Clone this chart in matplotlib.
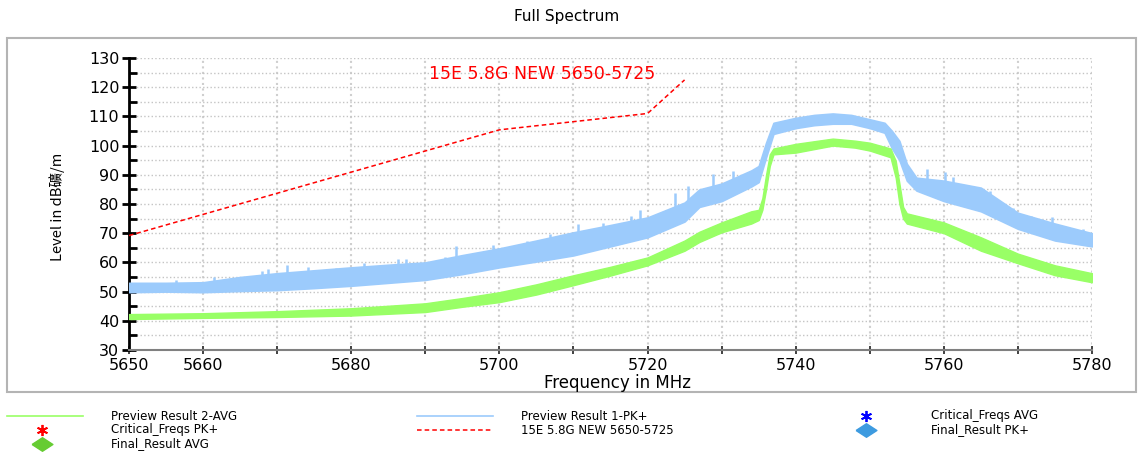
import numpy as np
import matplotlib
matplotlib.use("Agg")
import matplotlib.pyplot as plt
from matplotlib.lines import Line2D
from matplotlib.patches import Rectangle

plt.rcParams['font.family'] = ['DejaVu Sans', 'Noto Sans CJK TC']

W, H = 1139, 455

# Preview Result 1-PK+ (band: lower / upper edge)
pk_freq = [5650, 5655, 5660, 5665, 5670, 5675, 5680, 5685, 5690, 5695, 5700, 5705, 5710,
           5715, 5720, 5725, 5727, 5730, 5734, 5735, 5736, 5737, 5740, 5742.5, 5745,
           5747.5, 5750, 5752, 5753, 5754, 5755, 5756.3, 5760, 5765, 5770, 5775, 5780]
pk_low = [49.8, 50.0, 49.8, 50.2, 50.5, 51.2, 52.0, 53.0, 54.0, 56.0, 58.3, 60.3, 62.4,
          65.5, 68.6, 74.0, 79.0, 81.0, 86.0, 87.5, 96.0, 104.0, 106.0, 107.0, 107.5,
          107.5, 106.0, 104.4, 99.0, 95.0, 88.0, 84.6, 81.0, 77.5, 71.5, 67.5, 65.5]
pk_up = [53.0, 53.0, 53.2, 55.0, 56.3, 57.3, 58.3, 59.2, 60.0, 62.5, 64.8, 67.5, 70.3,
         72.8, 75.4, 80.5, 85.0, 87.0, 91.5, 93.0, 101.0, 107.8, 109.5, 110.5, 111.0,
         110.5, 109.0, 107.8, 105.0, 101.6, 93.8, 89.0, 88.0, 85.6, 77.0, 73.3, 70.0]

# isolated peaks sticking out of the PK+ band
spike_freq = [5656.4, 5661.5, 5667.9, 5668.8, 5671.3, 5674.1, 5677.9, 5681.7, 5686.3, 5687.4,
              5692.7, 5694.2, 5699.2, 5703.7, 5706.8, 5710.6, 5714.0, 5717.8, 5719.0, 5723.7,
              5725.5, 5728.9, 5731.5, 5757.7, 5760.2, 5761.3, 5764.4, 5766.2, 5768.7, 5769.4,
              5771.8, 5774.6, 5778.8]
spike_lvl = [53.9, 54.9, 57.0, 57.6, 59.0, 58.3, 58.0, 59.8, 61.0, 61.3,
             61.8, 65.5, 65.8, 67.5, 69.6, 73.3, 73.5, 76.0, 77.8, 83.6,
             86.3, 90.4, 91.4, 92.0, 90.9, 89.2, 85.7, 84.6, 78.5, 78.5,
             76.0, 75.5, 71.6]

# Preview Result 2-AVG
av_freq = [5650, 5660, 5670, 5680, 5690, 5695, 5700, 5705, 5710, 5715, 5720, 5725, 5727,
           5730, 5734, 5735, 5735.5, 5736, 5736.5, 5737, 5740, 5745, 5748, 5750, 5752.8,
           5753.5, 5754, 5754.5, 5755, 5760, 5765, 5770, 5775, 5780]
av_low = [40.6, 41.0, 41.3, 41.8, 43.0, 44.8, 46.4, 49.0, 52.2, 55.5, 59.0, 64.0, 67.0,
          70.3, 73.3, 74.5, 78.0, 85.0, 93.0, 97.0, 97.6, 100.0, 99.3, 98.3, 96.0,
          89.0, 80.0, 75.0, 73.3, 70.0, 64.0, 59.7, 55.6, 53.2]
av_up = [42.3, 42.6, 43.3, 44.3, 46.0, 47.8, 49.8, 52.5, 55.6, 58.5, 61.7, 67.5, 70.5,
         73.7, 77.5, 78.0, 82.0, 90.0, 97.0, 99.0, 100.6, 102.4, 101.7, 101.0, 99.0,
         94.8, 87.0, 79.0, 76.8, 73.7, 68.6, 63.0, 59.0, 56.3]

# limit line
lim_freq = [5650, 5700, 5720, 5725]
lim_lvl = [69.2, 105.4, 111.0, 122.5]
lim_name = "15E 5.8G NEW 5650-5725"

xtick_vals = list(range(5650, 5781, 10))
xtick_labels = ["5650", "5660", "", "5680", "", "5700", "", "5720", "", "5740", "", "5760", "", "5780"]

c_pk = "#9ccbfc"
c_av = "#99ff66"
c_lim = "#ff0000"

fig = plt.figure(figsize=(W / 100, H / 100), dpi=100)
ax = fig.add_axes([129 / W, 1 - 350 / H, (1092 - 129) / W, (350 - 58) / H])

ax.fill_between(pk_freq, pk_low, pk_up, color=c_pk, lw=1.2, zorder=3)
base = np.interp(spike_freq, pk_freq, pk_up) - 1.5
ax.vlines(spike_freq, base, spike_lvl, color=c_pk, lw=1.8, zorder=3)
ax.fill_between(av_freq, av_low, av_up, color=c_av, lw=1.0, zorder=4)
ax.plot(lim_freq, lim_lvl, ls=(0, (3, 2)), color=c_lim, lw=1.1, zorder=5)
ax.text(5690.5, 124.5, lim_name, color=c_lim, fontsize=12.5, va='center', ha='left', zorder=6)

ax.set_xlim(5650, 5780)
ax.set_ylim(30, 130)
ax.set_xticks(xtick_vals)
ax.set_xticklabels(xtick_labels)
ax.set_yticks(range(30, 131, 10))
ax.set_yticks(range(35, 131, 10), minor=True)
ax.tick_params(axis='y', which='major', direction='inout', length=10, width=2,
               labelsize=11.5, pad=2, color='black')
ax.tick_params(axis='y', which='minor', direction='in', length=6, width=2, color='black')
ax.tick_params(axis='x', which='major', direction='inout', length=6, width=1.3,
               labelsize=11.5, pad=3, color='#333333')

ax.grid(axis='x', which='major', color='#cfcfcf', ls=':', lw=1.5)
ax.grid(axis='y', which='both', color='#c4c4c4', ls=':', lw=1.0)

for s in ['top', 'right']:
    ax.spines[s].set_visible(False)
ax.spines['left'].set_linewidth(2)
ax.spines['left'].set_color('black')
ax.spines['bottom'].set_linewidth(1.5)
ax.spines['bottom'].set_color('#808080')

# outer frame round the plot area
fig.add_artist(Rectangle((7 / W, 1 - 392 / H), 1129 / W, 354 / H, transform=fig.transFigure,
                         fill=False, edgecolor='#b4b4b4', lw=1.5))

fig.text(567 / W, 1 - 16 / H, "Full Spectrum", ha='center', va='center', fontsize=11)
fig.text(617 / W, 1 - 383 / H, "Frequency in MHz", ha='center', va='center', fontsize=12)
fig.text(57 / W, 1 - 207 / H, "Level in dB礦/m", ha='center', va='center', rotation=90,
         fontsize=10.5, family=['Noto Sans CJK TC'])

# legend, three columns under the frame
def leg_line(x0, x1, y, **kw):
    fig.add_artist(Line2D([x0 / W, x1 / W], [1 - y / H, 1 - y / H], transform=fig.transFigure, **kw))

def leg_mark(x, y, **kw):
    fig.add_artist(Line2D([x / W], [1 - y / H], transform=fig.transFigure, ls='none', **kw))

diamond = [(-1, 0), (0, 0.65), (1, 0), (0, -0.65), (-1, 0)]
leg_line(7, 83, 416, color=c_av, lw=1.2)
leg_mark(42, 430, marker=(6, 2, 0), color='red', ms=8, mew=1.3)
leg_mark(42, 444, marker=diamond, color='#66cc33', ms=15)
leg_line(417, 493, 416, color=c_pk, lw=1.2)
leg_line(417, 493, 430, color=c_lim, lw=1.1, ls=(0, (3, 2)))
leg_mark(866, 416, marker=(6, 2, 0), color='blue', ms=8, mew=1.3)
leg_mark(866, 430, marker=diamond, color='#3d9be0', ms=15)

leg_text = [(111, 416, "Preview Result 2-AVG"), (111, 430, "Critical_Freqs PK+"),
            (111, 444, "Final_Result AVG"), (521, 416, "Preview Result 1-PK+"),
            (521, 430, lim_name), (931, 416, "Critical_Freqs AVG"),
            (931, 430, "Final_Result PK+")]
for x, y, t in leg_text:
    fig.text(x / W, 1 - y / H, t, ha='left', va='center', fontsize=8.5)

fig.savefig("out.png", dpi=100)
